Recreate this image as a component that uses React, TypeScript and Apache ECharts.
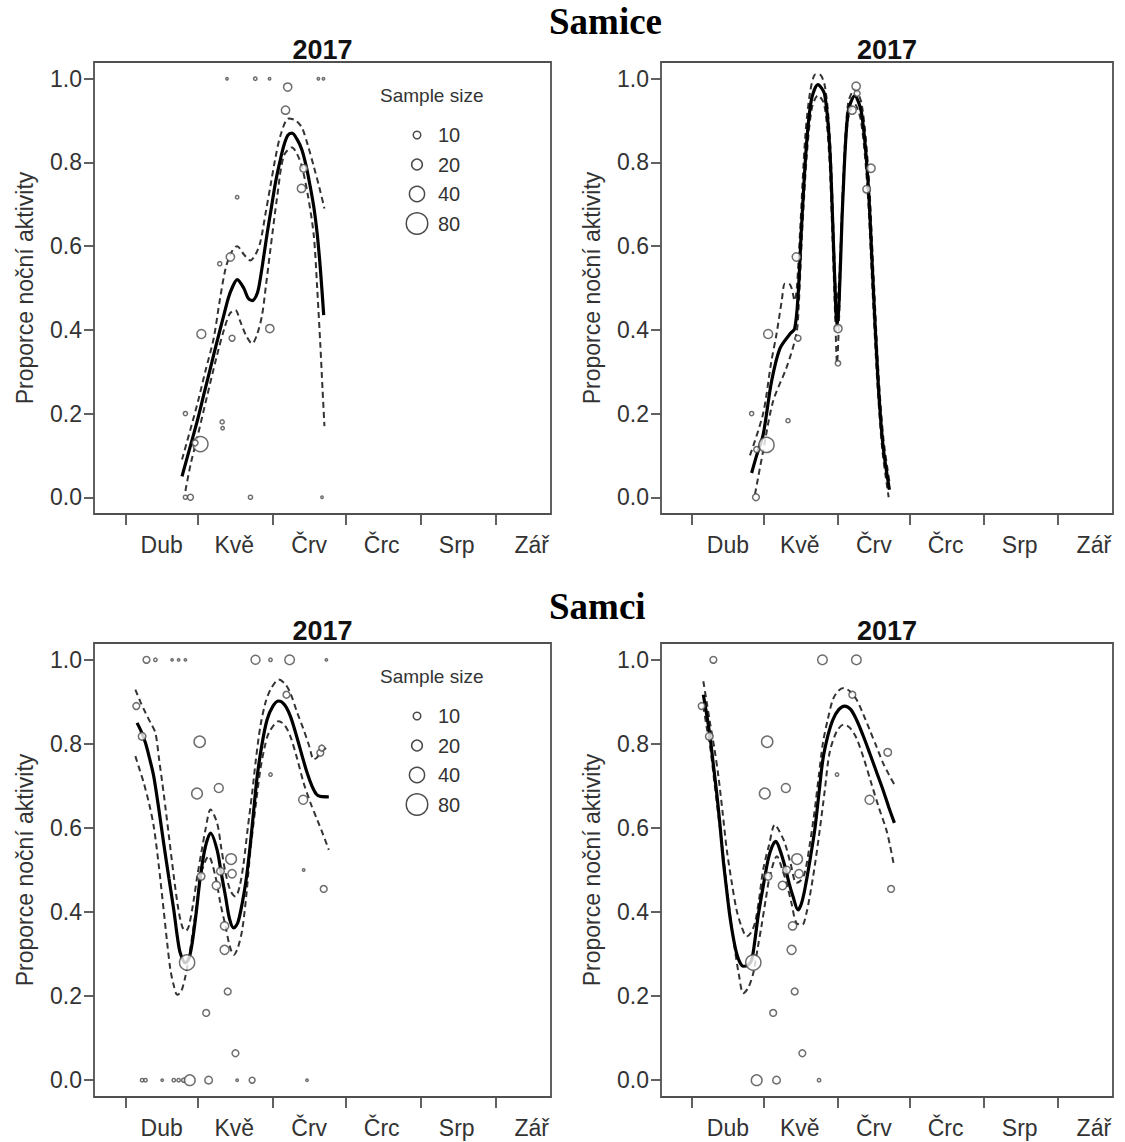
import React, { useEffect, useRef } from "react";
import * as echarts from "echarts";

// ---------- axis data ----------
const monthNames = ["Dub", "Kvě", "Črv", "Črc", "Srp", "Zář"];
const monthStartDays = [91, 121, 152, 182, 213, 244];
const monthMidDays = [106, 136, 167, 197, 228, 259];
const yTicks = [0, 0.2, 0.4, 0.6, 0.8, 1];
const legendSizes = [10, 20, 40, 80];
const sectionTitles = ["Samice", "Samci"];
const panelYear = "2017";
const yAxisTitle = "Proporce noční aktivity";
const legendTitle = "Sample size";

// ---------- Panel A: Samice (left) ----------
const fitA = [[114.4,0.05],[117.5,0.115],[120.6,0.18],[123.4,0.245],[126.2,0.31],[129,0.375],[131.7,0.435],[133.5,0.475],[135.1,0.5],[137.2,0.52],[139.9,0.5],[141.8,0.475],[143.4,0.47],[145,0.48],[146.1,0.5],[147.8,0.56],[149.6,0.63],[151.3,0.69],[153,0.75],[154.8,0.8],[156.5,0.84],[158.2,0.865],[159.9,0.87],[162,0.855],[164,0.83],[165.8,0.79],[167.5,0.74],[169,0.69],[170.3,0.63],[171.7,0.54],[173,0.435]];
const upperA = [[114.4,0.09],[120.6,0.22],[124,0.3],[127.5,0.38],[130,0.47],[132.4,0.546],[134.8,0.585],[137.2,0.6],[140,0.58],[142.7,0.566],[144.8,0.58],[146.8,0.61],[149,0.68],[151,0.745],[153,0.81],[155.1,0.864],[158.5,0.905],[161.5,0.9],[164,0.883],[166.5,0.84],[168.9,0.79],[171.2,0.74],[173.3,0.69]];
const lowerA = [[115.8,0.015],[118,0.08],[120.6,0.14],[124.7,0.24],[128.9,0.34],[132,0.405],[134.3,0.44],[136.5,0.447],[138.5,0.42],[141,0.385],[143.4,0.367],[145.5,0.39],[147.5,0.435],[149.2,0.51],[151,0.594],[153.8,0.72],[156.5,0.816],[159.9,0.836],[162,0.82],[164,0.79],[166.5,0.72],[168.9,0.625],[170.3,0.5],[171.6,0.364],[172.5,0.26],[173.3,0.17]];
const pointsA = [[133,1,1],[144.7,1,2],[150.6,1,1],[170.8,1,1],[172.9,1,1],[158.1,0.98,12],[157.2,0.925,12],[164.7,0.786,10],[163.8,0.738,12],[137.2,0.717,2],[134.4,0.574,12],[130,0.558,3],[122.4,0.39,14],[135.1,0.38,6],[150.7,0.403,12],[115.8,0.2,3],[131,0.18,3],[131.2,0.165,2],[122,0.127,40],[119.8,0.13,6],[115.8,0,3],[117.9,0,6],[142.7,0,3],[172.3,0,1]];

// ---------- Panel B: Samice (right) ----------
const fitB = [[115.9,0.058],[118,0.1],[120.7,0.149],[124.2,0.276],[127.7,0.355],[131.9,0.39],[133.9,0.403],[135.3,0.48],[136.7,0.64],[138.8,0.84],[140.9,0.95],[143.6,0.986],[146.4,0.963],[148.5,0.84],[149.9,0.64],[151.1,0.45],[151.6,0.41],[152.3,0.45],[153,0.55],[154.1,0.72],[156.2,0.92],[159,0.959],[161.8,0.92],[164.5,0.76],[166.6,0.52],[168.7,0.284],[170.8,0.125],[173.5,0.018]];
const upperB = [[115.2,0.1],[120.7,0.2],[124,0.32],[126.3,0.39],[128.5,0.47],[129.8,0.51],[131.5,0.51],[132.6,0.5],[133.9,0.47],[134.8,0.5],[136.2,0.64],[138.3,0.86],[140.4,0.97],[142.6,1.01],[144.3,1.01],[146.6,0.98],[148.6,0.86],[150,0.66],[151,0.5],[151.6,0.47],[152.3,0.5],[153.1,0.6],[154.2,0.76],[156.2,0.94],[159,0.975],[161.9,0.94],[164.7,0.78],[166.8,0.54],[168.9,0.3],[171,0.14],[173.7,0.03]];
const lowerB = [[117.3,0.007],[120.7,0.11],[124.9,0.23],[130.5,0.31],[134.6,0.39],[135.6,0.46],[136.9,0.62],[139,0.82],[141.1,0.93],[143.6,0.96],[146.2,0.94],[148.3,0.82],[149.7,0.62],[150.9,0.42],[151.6,0.32],[152.3,0.4],[152.9,0.52],[153.9,0.7],[156.1,0.9],[158.9,0.94],[161.6,0.9],[164.3,0.74],[166.4,0.5],[168.5,0.27],[170.6,0.11],[173.2,0]];
const pointsB = [[159.6,0.982,12],[160,0.965,6],[157.9,0.925,12],[165.8,0.786,12],[164,0.736,10],[134.6,0.574,12],[122.8,0.39,14],[135.3,0.38,6],[152,0.403,12],[152,0.32,5],[115.9,0.2,3],[131.1,0.183,3],[122.1,0.125,40],[118,0.114,6],[117.7,0,8]];

// ---------- Panel C: Samci (left) ----------
const fitC = [[95.8,0.85],[97.5,0.83],[99.3,0.802],[101,0.765],[102.7,0.723],[104.8,0.645],[106.8,0.564],[109,0.48],[111,0.405],[112.5,0.34],[113.7,0.302],[115.8,0.279],[117.3,0.29],[118.6,0.326],[120.3,0.4],[122,0.485],[124.1,0.556],[126.2,0.588],[128.9,0.548],[130.7,0.49],[132.4,0.437],[134,0.385],[135.8,0.362],[137.5,0.375],[139.3,0.421],[141,0.48],[142.7,0.564],[144.1,0.645],[145.5,0.723],[147.5,0.8],[149.6,0.858],[152,0.89],[154.4,0.902],[156.8,0.893],[159.2,0.866],[161.7,0.82],[164.1,0.771],[166.2,0.73],[168.2,0.699],[170,0.68],[171.6,0.675],[175.1,0.674]];
const upperC = [[95.1,0.929],[97.2,0.9],[99.3,0.874],[101.4,0.85],[103.4,0.826],[105,0.76],[106.8,0.683],[109,0.58],[111,0.485],[112.8,0.41],[114.5,0.365],[116,0.355],[117.2,0.366],[119,0.42],[120.7,0.485],[122.5,0.545],[124.1,0.596],[126.2,0.644],[128.9,0.612],[130.7,0.55],[132.4,0.493],[134.5,0.45],[136.5,0.437],[138.2,0.46],[139.9,0.517],[141.6,0.6],[143.4,0.683],[145,0.765],[146.8,0.842],[149,0.9],[151,0.929],[154.4,0.953],[157,0.943],[159.2,0.921],[162,0.875],[164.7,0.834],[167,0.795],[168.9,0.763],[170.3,0.768],[171.6,0.779],[175.1,0.795]];
const lowerC = [[95.1,0.771],[96.8,0.74],[98.6,0.707],[100.7,0.66],[102.7,0.604],[104.8,0.51],[106.8,0.405],[108.2,0.33],[109.6,0.263],[111,0.225],[112.4,0.203],[114,0.21],[115.8,0.247],[117.5,0.3],[119.2,0.366],[121,0.44],[122.7,0.5],[125.4,0.533],[128.2,0.485],[130.3,0.42],[132.4,0.366],[134.1,0.32],[135.8,0.298],[137.5,0.315],[139.3,0.358],[141,0.44],[142.7,0.548],[144.8,0.65],[146.8,0.739],[148.5,0.79],[150.3,0.826],[154.4,0.854],[156.8,0.845],[159.2,0.818],[162,0.765],[164.7,0.707],[167.5,0.66],[170.3,0.62],[172.7,0.585],[175.1,0.548]];
const pointsC = [[99.7,1,8],[103.4,1,2],[110.3,1,1],[113,1,1],[115.8,1,1],[144.8,1,14],[151,1,2],[158.9,1,16],[174.1,1,1],[95.5,0.89,8],[97.9,0.818,10],[121.7,0.805,22],[120.6,0.682,20],[129.6,0.695,14],[157.6,0.917,8],[171.6,0.779,8],[172.2,0.79,6],[151,0.727,2],[164.5,0.667,14],[164.7,0.5,1],[173,0.455,8],[134.7,0.526,20],[135.1,0.491,12],[130.3,0.497,10],[122.3,0.485,10],[128.6,0.463,12],[132,0.367,12],[132,0.31,14],[116.5,0.28,40],[133.3,0.211,8],[124.4,0.16,8],[136.5,0.064,8],[97.9,0,2],[99.3,0,2],[106.2,0,1],[111,0,2],[113,0,2],[115.1,0,3],[117.6,0,20],[125.4,0,10],[137.2,0,1],[143.4,0,6],[166.1,0,1]];

// ---------- Panel D: Samci (right) ----------
const fitD = [[95.7,0.917],[97.1,0.87],[98.5,0.818],[99.9,0.75],[101.3,0.683],[102.7,0.605],[104,0.525],[105.4,0.455],[106.8,0.39],[108.2,0.34],[109.6,0.302],[111,0.28],[112.4,0.271],[114.2,0.273],[115.9,0.286],[117.2,0.33],[118.6,0.39],[120.7,0.46],[122.8,0.525],[124.4,0.555],[126,0.568],[127.9,0.545],[129.8,0.509],[131.5,0.47],[133.2,0.437],[135.3,0.405],[136.7,0.42],[138.1,0.453],[140.2,0.52],[142.3,0.596],[144,0.68],[145.7,0.763],[147.8,0.82],[149.9,0.858],[152.4,0.882],[154.8,0.89],[157.3,0.882],[159.7,0.858],[162.5,0.82],[165.2,0.779],[168,0.735],[170.8,0.691],[173.2,0.65],[175.6,0.612]];
const upperD = [[95.7,0.949],[97.1,0.9],[98.5,0.85],[100.3,0.79],[102,0.723],[103.8,0.635],[105.5,0.548],[107.6,0.47],[109.6,0.405],[111.7,0.365],[113.8,0.342],[115.5,0.35],[117.3,0.374],[119,0.43],[120.7,0.5],[123.2,0.56],[125.6,0.608],[127.7,0.59],[129.8,0.564],[132.2,0.515],[134.6,0.469],[136.4,0.475],[138.1,0.493],[140.2,0.56],[142.3,0.644],[144,0.725],[145.7,0.802],[147.8,0.86],[149.9,0.906],[152.1,0.926],[154.4,0.933],[157,0.925],[159.7,0.906],[162.4,0.873],[165.2,0.834],[168,0.795],[170.8,0.755],[173.2,0.728],[175.6,0.703]];
const lowerD = [[95.7,0.89],[97.1,0.84],[98.5,0.795],[100.3,0.71],[102,0.628],[103.8,0.545],[105.5,0.461],[107.2,0.38],[108.9,0.31],[110.6,0.25],[112.4,0.207],[114.5,0.22],[116.6,0.255],[118.3,0.31],[120,0.366],[121.8,0.43],[123.5,0.485],[126.5,0.533],[128.5,0.505],[130.5,0.469],[132.6,0.42],[134.6,0.374],[137.1,0.37],[138.7,0.395],[140.2,0.437],[142.3,0.51],[144.4,0.596],[146.5,0.69],[148.5,0.779],[151.5,0.83],[154.4,0.846],[157,0.838],[159.7,0.814],[162.8,0.765],[165.9,0.707],[169,0.65],[172.2,0.596],[173.7,0.56],[175.2,0.517]];
const pointsD = [[99.9,1,8],[145.5,1,16],[159.7,1,16],[95,0.89,8],[98.2,0.818,10],[122.4,0.805,22],[121.4,0.682,20],[130.2,0.695,14],[158,0.917,8],[172.8,0.78,10],[151.6,0.727,2],[165.2,0.667,14],[174.2,0.455,8],[134.9,0.526,20],[135.7,0.491,12],[130.5,0.5,10],[122.8,0.485,10],[128.8,0.463,12],[133,0.367,12],[132.6,0.31,14],[116.6,0.28,40],[133.9,0.211,8],[124.9,0.16,8],[137.1,0.064,8],[118,0,20],[126.3,0,10],[144.1,0,2]];

const panels = [
  { fit: fitA, upper: upperA, lower: lowerA, points: pointsA },
  { fit: fitB, upper: upperB, lower: lowerB, points: pointsB },
  { fit: fitC, upper: upperC, lower: lowerC, points: pointsC },
  { fit: fitD, upper: upperD, lower: lowerD, points: pointsD },
];

// ---------- layout (pixels) ----------
const gridBoxes = [
  { left: 94, top: 62, width: 457, height: 452 },
  { left: 661, top: 62, width: 452, height: 452 },
  { left: 94, top: 643, width: 457, height: 454 },
  { left: 661, top: 643, width: 452, height: 454 },
];

const SANS = '"Liberation Sans", Arial, sans-serif';
const SERIF = '"Liberation Serif", "Times New Roman", serif';
const AXIS_COLOR = "#505050";
const POINT_COLOR = "#4a4a4a";
const TEXT_COLOR = "#333";
const sizeOf = (n: number) => 2.4 * Math.sqrt(n);

function buildOption() {
  const grid = gridBoxes.map((g) => ({
    ...g,
    show: true,
    borderColor: AXIS_COLOR,
    borderWidth: 1.8,
    backgroundColor: "transparent",
  }));

  const xAxis = gridBoxes.map((_, i) => ({
    type: "value",
    gridIndex: i,
    position: "bottom",
    min: 78,
    max: 267,
    axisLine: { show: false, onZero: false },
    splitLine: { show: false },
    axisTick: {
      show: true,
      inside: false,
      length: 11,
      customValues: monthStartDays,
      lineStyle: { color: AXIS_COLOR, width: 1.8 },
    },
    axisLabel: {
      customValues: monthMidDays,
      formatter: (v: number) => monthNames[monthMidDays.indexOf(v)] ?? "",
      margin: 19,
      fontSize: 23,
      fontFamily: SANS,
      color: TEXT_COLOR,
    },
  }));

  const yAxis = gridBoxes.map((_, i) => ({
    type: "value",
    gridIndex: i,
    position: "left",
    min: -0.04,
    max: 1.04,
    axisLine: { show: false, onZero: false },
    splitLine: { show: false },
    axisTick: {
      show: true,
      inside: false,
      length: 10,
      customValues: yTicks,
      lineStyle: { color: AXIS_COLOR, width: 1.8 },
    },
    axisLabel: {
      customValues: yTicks,
      formatter: (v: number) => v.toFixed(1),
      margin: 12,
      fontSize: 23,
      fontFamily: SANS,
      color: TEXT_COLOR,
    },
  }));

  const series: any[] = [];
  panels.forEach((p, i) => {
    const dashed = {
      type: "line",
      xAxisIndex: i,
      yAxisIndex: i,
      showSymbol: false,
      smooth: 0.3,
      silent: true,
      z: 2,
      lineStyle: { color: "#333", width: 2, type: [6, 4] },
    };
    series.push({ ...dashed, name: `upper${i}`, data: p.upper });
    series.push({ ...dashed, name: `lower${i}`, data: p.lower });
    series.push({
      type: "line",
      name: `fit${i}`,
      xAxisIndex: i,
      yAxisIndex: i,
      showSymbol: false,
      smooth: 0.3,
      silent: true,
      z: 3,
      data: p.fit,
      lineStyle: { color: "#000", width: 3.2 },
    });
    series.push({
      type: "scatter",
      name: `points${i}`,
      xAxisIndex: i,
      yAxisIndex: i,
      z: 4,
      symbol: "circle",
      symbolSize: (d: number[]) => sizeOf(d[2]),
      data: p.points,
      itemStyle: { color: "#fff", borderColor: POINT_COLOR, borderWidth: 1.5 },
    });
  });

  const graphic: any[] = [];
  // section titles
  [21, 606].forEach((y, k) => {
    graphic.push({
      type: "text",
      x: 549,
      y,
      style: {
        text: sectionTitles[k],
        fill: "#000",
        font: `bold 37px ${SERIF}`,
        textAlign: "left",
        textVerticalAlign: "middle",
      },
    });
  });
  // panel titles and y axis titles
  gridBoxes.forEach((g, i) => {
    graphic.push({
      type: "text",
      x: g.left + g.width / 2,
      y: g.top - 12,
      style: {
        text: panelYear,
        fill: "#111",
        font: `bold 27px ${SANS}`,
        textAlign: "center",
        textVerticalAlign: "middle",
      },
    });
    graphic.push({
      type: "text",
      x: g.left - 69,
      y: g.top + g.height / 2,
      rotation: Math.PI / 2,
      style: {
        text: yAxisTitle,
        fill: TEXT_COLOR,
        font: `23px ${SANS}`,
        textAlign: "center",
        textVerticalAlign: "middle",
      },
    });
  });
  // legends for left panels
  [0, 2].forEach((gi) => {
    const g = gridBoxes[gi];
    const baseY = g.top + 33;
    graphic.push({
      type: "text",
      x: 380,
      y: baseY,
      style: {
        text: legendTitle,
        fill: TEXT_COLOR,
        font: `19px ${SANS}`,
        textAlign: "left",
        textVerticalAlign: "middle",
      },
    });
    legendSizes.forEach((n, k) => {
      const cy = baseY + 40 + k * 29.5;
      graphic.push({
        type: "circle",
        shape: { cx: 417, cy, r: sizeOf(n) / 2 },
        style: { fill: "#fff", stroke: POINT_COLOR, lineWidth: 1.5 },
      });
      graphic.push({
        type: "text",
        x: 438,
        y: cy,
        style: {
          text: String(n),
          fill: TEXT_COLOR,
          font: `20px ${SANS}`,
          textAlign: "left",
          textVerticalAlign: "middle",
        },
      });
    });
  });

  return {
    animation: false,
    backgroundColor: "#fff",
    grid,
    xAxis,
    yAxis,
    series,
    graphic,
  };
}

export default function App() {
  const ref = useRef<HTMLDivElement>(null);
  useEffect(() => {
    document.body.style.margin = "0";
    if (!ref.current) return;
    const chart = echarts.init(ref.current, undefined, { renderer: "svg" });
    chart.setOption(buildOption() as any);
    return () => chart.dispose();
  }, []);
  return <div ref={ref} style={{ width: 1125, height: 1142 }} />;
}
